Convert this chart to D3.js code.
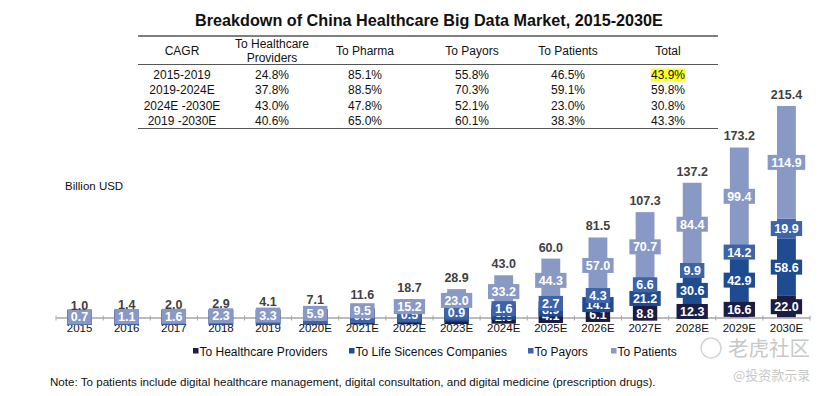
<!DOCTYPE html>
<html>
<head>
<meta charset="utf-8">
<script src="https://cdn.jsdelivr.net/npm/d3@7"></script>
<style>
  body { margin: 0; background: #fff; }
  svg { display: block; font-family: "Liberation Sans", Arial, sans-serif; }
</style>
</head>
<body>
<div class="svg-container"></div>
<script>
// values (hidden small segments estimated)
const years = ['2015', '2016', '2017', '2018', '2019', '2020E', '2021E', '2022E', '2023E', '2024E', '2025E', '2026E', '2027E', '2028E', '2029E', '2030E'];
const providers = [0.2, 0.26, 0.33, 0.41, 0.5, 0.7, 1.0, 1.4, 1.9, 2.6, 4.1, 6.1, 8.8, 12.3, 16.6, 22.0];
const lifeSciences = [0.02, 0.04, 0.07, 0.13, 0.2, 0.4, 0.85, 1.6, 3.1, 5.6, 8.9, 14.1, 21.2, 30.6, 42.9, 58.6];
const payors = [0.02, 0.03, 0.05, 0.07, 0.1, 0.15, 0.3, 0.5, 0.9, 1.6, 2.7, 4.3, 6.6, 9.9, 14.2, 19.9];
const patients = [0.7, 1.1, 1.6, 2.3, 3.3, 5.9, 9.5, 15.2, 23.0, 33.2, 44.3, 57.0, 70.7, 84.4, 99.4, 114.9];
const totals = [1.0, 1.4, 2.0, 2.9, 4.1, 7.1, 11.6, 18.7, 28.9, 43.0, 60.0, 81.5, 107.3, 137.2, 173.2, 215.4];

const seriesNames = ['To Healthcare Providers', 'To Life Sicences Companies', 'To Payors', 'To Patients'];
const seriesColors = ['#1b1d45', '#1f4c91', '#3d63a8', '#8999c6'];

const tableHeader = ['CAGR', 'To Healthcare\nProviders', 'To Pharma', 'To Payors', 'To Patients', 'Total'];
const tableRows = [
  ['2015-2019', '24.8%', '85.1%', '55.8%', '46.5%', '43.9%'],
  ['2019-2024E', '37.8%', '88.5%', '70.3%', '59.1%', '59.8%'],
  ['2024E -2030E', '43.0%', '47.8%', '52.1%', '23.0%', '30.8%'],
  ['2019 -2030E', '40.6%', '65.0%', '60.1%', '38.3%', '43.3%'],
];

const svgWidth = 831;
const svgHeight = 396;
const svg = d3.select('.svg-container')
  .append('svg')
  .attr('width', svgWidth)
  .attr('height', svgHeight);

// Title
svg.append('text')
  .attr('x', 429).attr('y', 26)
  .attr('text-anchor', 'middle')
  .attr('font-size', 16.2).attr('font-weight', 'bold').attr('fill', '#111')
  .text('Breakdown of China Healthcare Big Data Market, 2015-2030E');

// CAGR table
const colX = [182, 272, 365, 472, 568, 668];
const rowY = [74.5, 90, 105.5, 121];
const table = svg.append('g').attr('font-size', 12).attr('fill', '#111');
table.append('line').attr('x1', 138).attr('x2', 718).attr('y1', 36).attr('y2', 36).attr('stroke', '#555').attr('stroke-width', 1.6);
table.append('line').attr('x1', 138).attr('x2', 718).attr('y1', 64.5).attr('y2', 64.5).attr('stroke', '#555').attr('stroke-width', 1.2);
table.append('line').attr('x1', 138).attr('x2', 718).attr('y1', 128.5).attr('y2', 128.5).attr('stroke', '#555').attr('stroke-width', 1.2);

tableHeader.forEach((h, i) => {
  const lines = h.split('\n');
  const t = table.append('text').attr('text-anchor', 'middle');
  lines.forEach((l, j) => {
    t.append('tspan')
      .attr('x', colX[i])
      .attr('y', lines.length > 1 ? 48 + j * 13.5 : 55)
      .text(l);
  });
});

tableRows.forEach((row, r) => {
  row.forEach((cell, c) => {
    const t = table.append('text')
      .attr('x', colX[c]).attr('y', rowY[r] + 4)
      .attr('text-anchor', 'middle')
      .text(cell);
    if (r === 0 && c === 5) {
      const bb = t.node().getBBox();
      table.insert('rect', () => t.node())
        .attr('x', bb.x).attr('y', bb.y + 1)
        .attr('width', bb.width).attr('height', bb.height - 1)
        .attr('fill', '#ffff2e');
    }
  });
});

// Chart
const x = d3.scaleBand().domain(years).range([56, 810]).paddingInner(0.6).paddingOuter(0.3);
const y = d3.scaleLinear().domain([0, 220]).range([317.5, 317.5 - 220 * 0.982]);

const rows = years.map((yr, i) => ({
  year: yr,
  providers: providers[i],
  lifeSciences: lifeSciences[i],
  payors: payors[i],
  patients: patients[i],
  total: totals[i],
}));
const keys = ['providers', 'lifeSciences', 'payors', 'patients'];
const stacked = d3.stack().keys(keys)(rows);

svg.append('text')
  .attr('x', 65).attr('y', 190)
  .attr('font-size', 11.5).attr('fill', '#111')
  .text('Billion USD');

// Bars
stacked.forEach((s, k) => {
  svg.append('g').attr('fill', seriesColors[k])
    .selectAll('rect')
    .data(s)
    .join('rect')
    .attr('x', (d) => x(d.data.year))
    .attr('width', x.bandwidth())
    .attr('y', (d) => y(d[1]))
    .attr('height', (d) => y(d[0]) - y(d[1]));
});

// X axis
const axis = svg.append('g').attr('transform', `translate(0, ${y(0)})`)
  .call(d3.axisBottom(x).tickSize(0).tickPadding(6));
axis.select('.domain').attr('stroke', '#a6a6a6').attr('stroke-width', 1.3);
axis.selectAll('text').attr('font-size', 11.5).attr('fill', '#111')
  .attr('font-family', '"Liberation Sans", Arial, sans-serif');
axis.selectAll('.boundary')
  .data(years.concat(['end']))
  .join('line')
  .attr('class', 'boundary')
  .attr('x1', (d, i) => 56 + i * x.step())
  .attr('x2', (d, i) => 56 + i * x.step())
  .attr('y1', -2).attr('y2', 3)
  .attr('stroke', '#a6a6a6');

// Segment labels
stacked.forEach((s, k) => {
  const g = svg.append('g');
  s.forEach((d) => {
    const cx = x(d.data.year) + x.bandwidth() / 2;
    const cy = (y(d[0]) + y(d[1])) / 2;
    const lab = g.append('g');
    const t = lab.append('text')
      .attr('x', cx).attr('y', cy + 4.5)
      .attr('text-anchor', 'middle')
      .attr('font-size', 12.5).attr('font-weight', 'bold').attr('fill', '#fff')
      .text((d[1] - d[0]).toFixed(1));
    const w = t.node().getComputedTextLength() + 7;
    lab.insert('rect', 'text')
      .attr('x', cx - w / 2).attr('y', cy - 7.5)
      .attr('width', w).attr('height', 15)
      .attr('fill', seriesColors[k]);
  });
});

// Totals
svg.append('g')
  .selectAll('text')
  .data(rows)
  .join('text')
  .attr('x', (d) => x(d.year) + x.bandwidth() / 2)
  .attr('y', (d) => y(d.total) - 7)
  .attr('text-anchor', 'middle')
  .attr('font-size', 12.5).attr('font-weight', 'bold').attr('fill', '#404040')
  .text((d) => d.total.toFixed(1));

// Legend
const legendX = [193, 349, 528, 611];
const legend = svg.append('g').attr('font-size', 12).attr('fill', '#111');
seriesNames.forEach((name, i) => {
  legend.append('rect')
    .attr('x', legendX[i]).attr('y', 348)
    .attr('width', 5.5).attr('height', 5.5)
    .attr('fill', seriesColors[i]);
  legend.append('text')
    .attr('x', legendX[i] + 6.5).attr('y', 355.5)
    .text(name);
});

// Note
svg.append('text')
  .attr('x', 50).attr('y', 385.5)
  .attr('font-size', 11.6).attr('fill', '#111')
  .text('Note: To patients include digital healthcare management, digital consultation, and digital medicine (prescription drugs).');

// Watermark
const wm = svg.append('g').attr('fill', '#c8c8c8');
wm.append('circle').attr('cx', 711).attr('cy', 348).attr('r', 10)
  .attr('fill', 'none').attr('stroke', '#d4d4d4').attr('stroke-width', 1.5);
wm.append('text').attr('x', 728).attr('y', 355.5)
  .attr('font-size', 20.5).attr('font-family', '"Noto Sans CJK SC", sans-serif')
  .text('老虎社区');
wm.append('text').attr('x', 733).attr('y', 380)
  .attr('font-size', 13).attr('font-family', '"Noto Sans CJK SC", sans-serif')
  .text('@投资款示录');
</script>
</body>
</html>
